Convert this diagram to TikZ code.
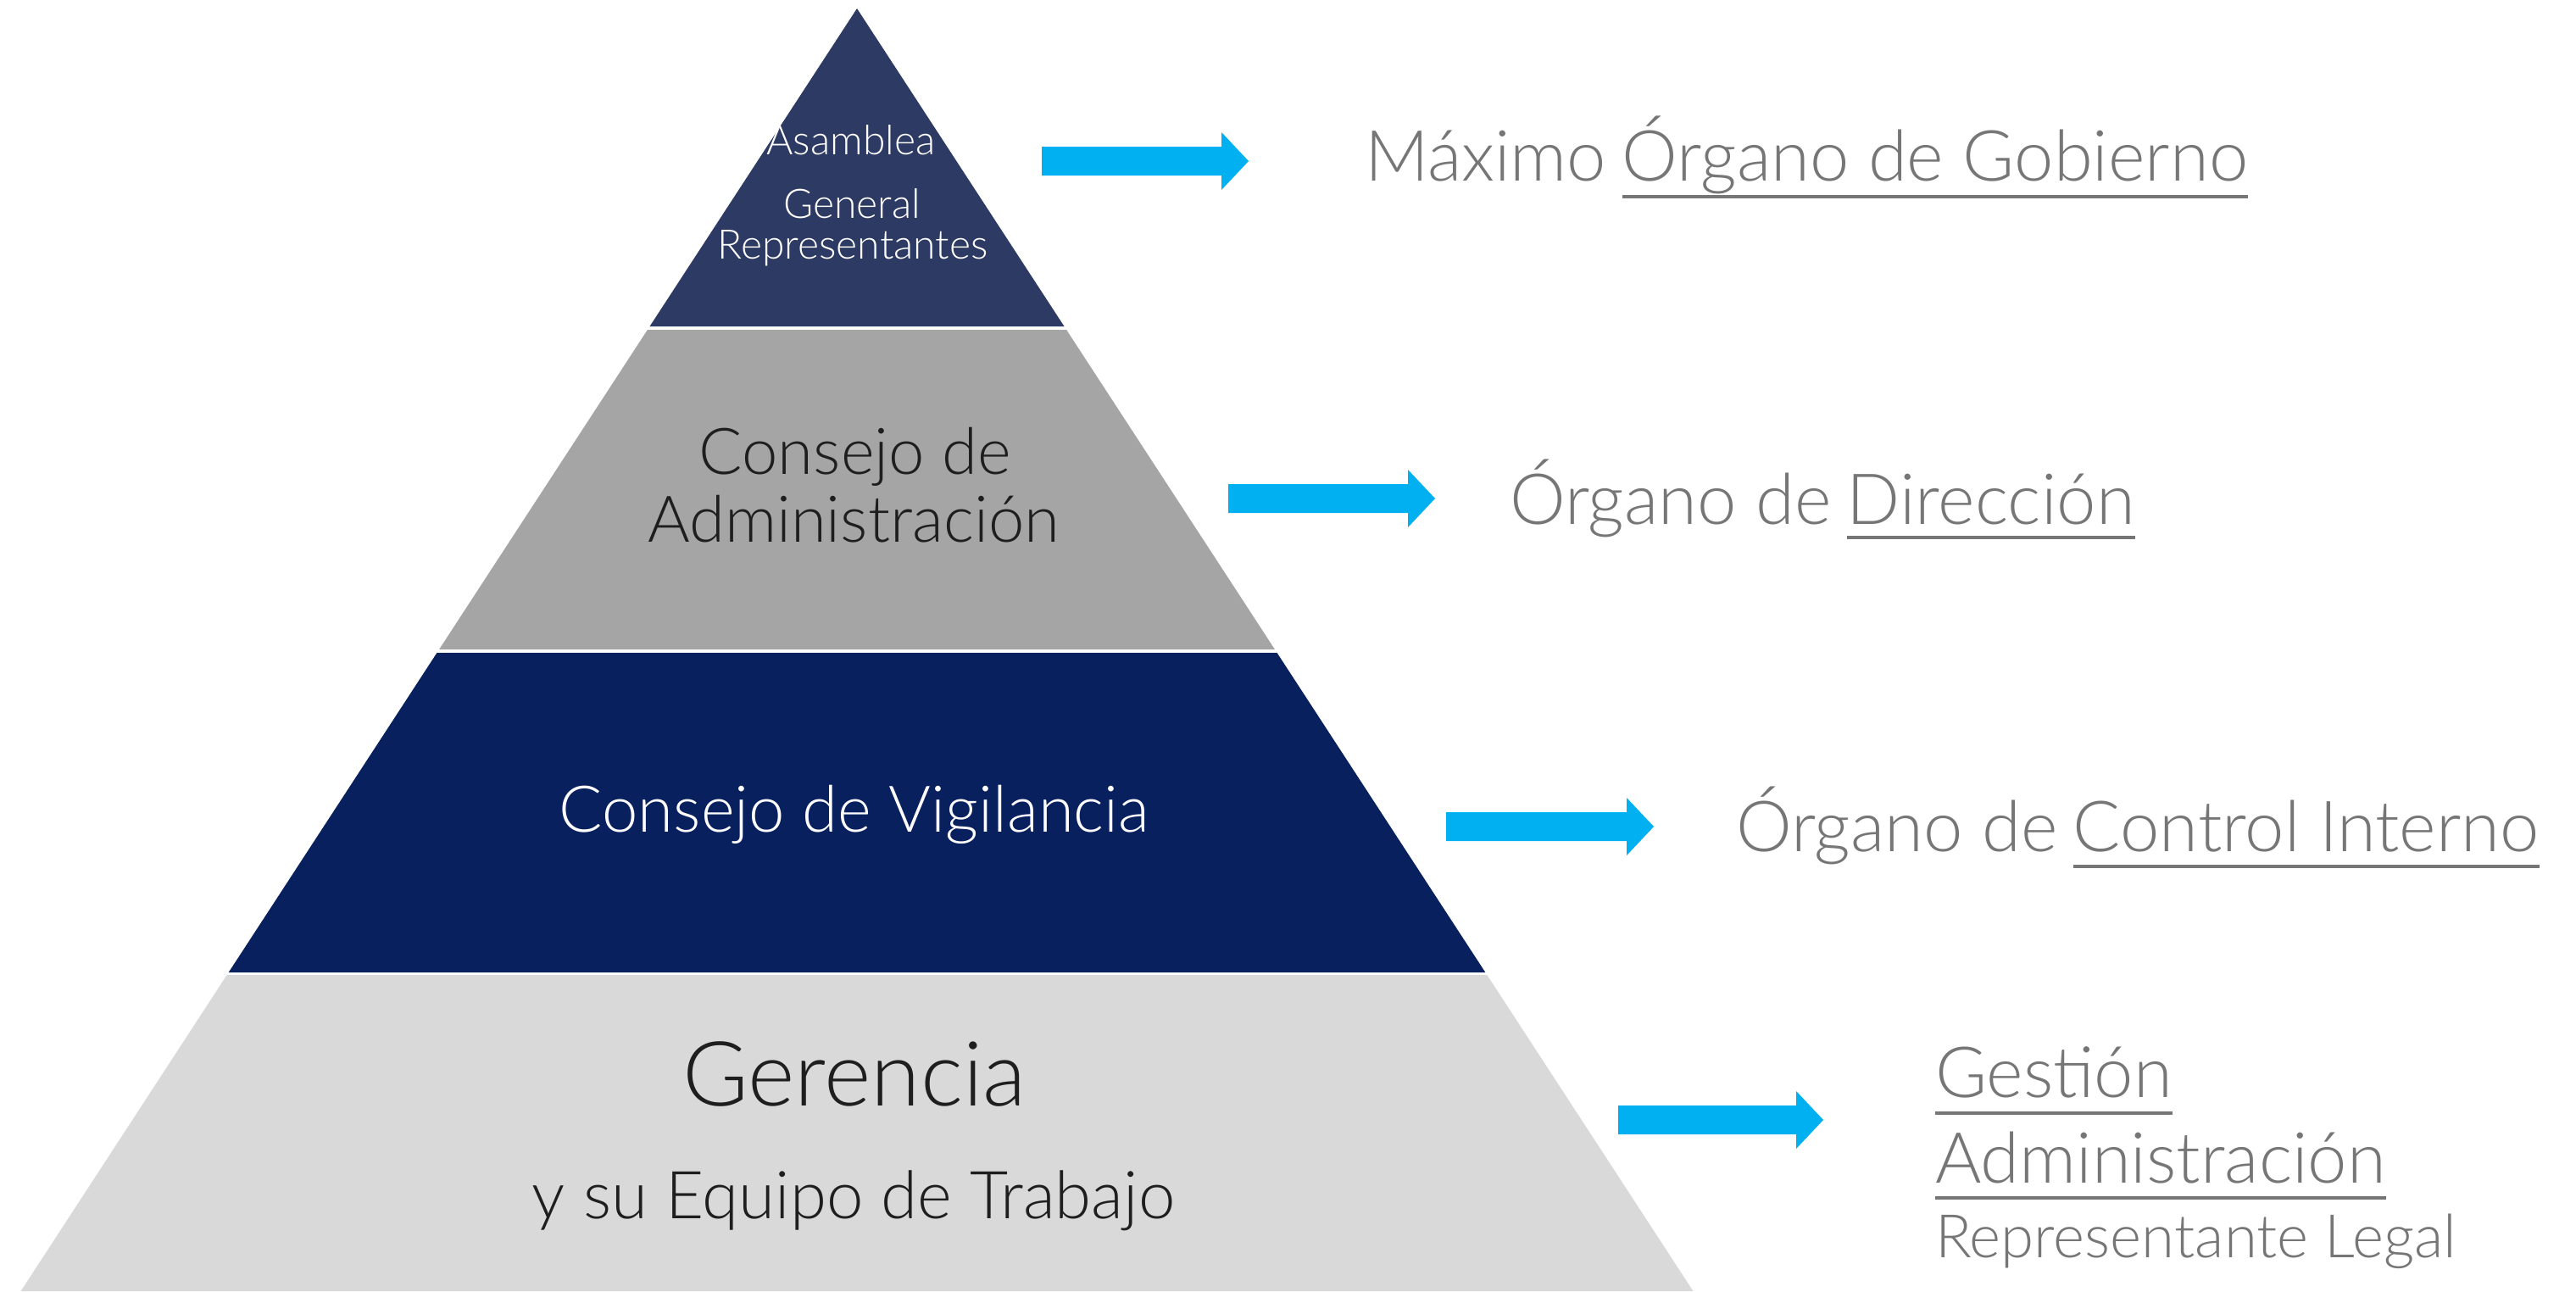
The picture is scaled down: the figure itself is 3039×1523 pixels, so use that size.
\documentclass[tikz,border=0pt]{standalone}
\usepackage{fontspec}
\setmainfont{Lato}[UprightFont=* Light]
\definecolor{tierA}{HTML}{2D3A63}
\definecolor{tierB}{HTML}{A5A5A5}
\definecolor{tierC}{HTML}{08205E}
\definecolor{tierD}{HTML}{D9D9D9}
\definecolor{arrowc}{HTML}{00B0F0}
\definecolor{labelc}{HTML}{767676}
\definecolor{darktext}{HTML}{1E1E1E}
\newcommand\tierfill[3]{%
  \fill[#1] ({1011-0.652*(#2-10)},#2) -- ({1011+0.652*(#2-10)},#2)
    -- ({1011+0.652*(#3-10)},#3) -- ({1011-0.652*(#3-10)},#3) -- cycle;}
\newcommand\blockarrow[3]{% x0, xtip, y
  \fill[arrowc] (#1,#3-17) -- (#2-32,#3-17) -- (#2-32,#3-34) -- (#2,#3)
    -- (#2-32,#3+34) -- (#2-32,#3+17) -- (#1,#3+17) -- cycle;}
\begin{document}
\begin{tikzpicture}[x=0.25pt,y=-0.25pt,
  txt/.style={inner sep=0pt,outer sep=0pt,anchor=base},
  lbl/.style={inner sep=0pt,outer sep=0pt,anchor=base west,text=labelc,font=\fontsize{20.8pt}{24pt}\selectfont},
  uline/.style={draw=labelc,line width=0.9pt}]
\useasboundingbox (0,0) rectangle (3039,1523);
\fill[white] (0,0) rectangle (3039,1523);
% pyramid tiers
\tierfill{tierA}{10}{385}
\tierfill{tierB}{389}{766}
\tierfill{tierC}{770}{1147}
\tierfill{tierD}{1150}{1523}
% tier texts
\node[txt,text=white,font=\fontsize{12pt}{14pt}\selectfont] (asam) at (1004,182) {Asamblea};
\node[txt,text=white,font=\fontsize{12pt}{14pt}\selectfont] (gen) at (1005,257) {General};
\node[txt,text=white,font=\fontsize{12pt}{14pt}\selectfont] (rep) at (1006,305) {Representantes};
\node[txt,text=darktext,font=\fontsize{19pt}{22pt}\selectfont] (cons1) at (1009,559) {Consejo de};
\node[txt,text=darktext,font=\fontsize{19pt}{22pt}\selectfont] (cons2) at (1007,639) {Administración};
\node[txt,text=white,font=\fontsize{19pt}{22pt}\selectfont] (vig) at (1008,981) {Consejo de Vigilancia};
\node[txt,text=darktext,font=\fontsize{26.5pt}{30pt}\selectfont] (ger) at (1008,1304) {Gerencia};
\node[txt,text=darktext,font=\fontsize{19.5pt}{22pt}\selectfont] (equipo) at (1007,1437) {y su Equipo de Trabajo};
% arrows
\blockarrow{1229}{1473}{190}
\blockarrow{1449}{1693}{588}
\blockarrow{1706}{1951}{975}
\blockarrow{1909}{2151}{1321}
% right labels
\node[lbl] (l1a) at (1610,213) {Máximo};
\node[lbl] (l1b) at ([xshift=4.6pt]l1a.base east) {Órgano de Gobierno};
\draw[uline] (l1b.base west |- 0,232) -- (l1b.base east |- 0,232);
\node[lbl] (l2a) at (1781,618) {Órgano de};
\node[lbl] (l2b) at ([xshift=4.6pt]l2a.base east) {Dirección};
\draw[uline] (l2b.base west |- 0,634) -- (l2b.base east |- 0,634);
\node[lbl] (l3a) at (2048,1004) {Órgano de};
\node[lbl] (l3b) at ([xshift=4.6pt]l3a.base east) {Control Interno};
\draw[uline] (l3b.base west |- 0,1022) -- (l3b.base east |- 0,1022);
\node[lbl] (l4a) at (2283,1294) {Gestión};
\draw[uline] (l4a.base west |- 0,1313) -- (l4a.base east |- 0,1313);
\node[lbl] (l4b) at (2283,1395) {Administración};
\draw[uline] (l4b.base west |- 0,1413) -- (l4b.base east |- 0,1413);
\node[lbl,font=\fontsize{17.7pt}{20pt}\selectfont] (l4c) at (2283,1483) {Representante Legal};
\end{tikzpicture}
\end{document}
